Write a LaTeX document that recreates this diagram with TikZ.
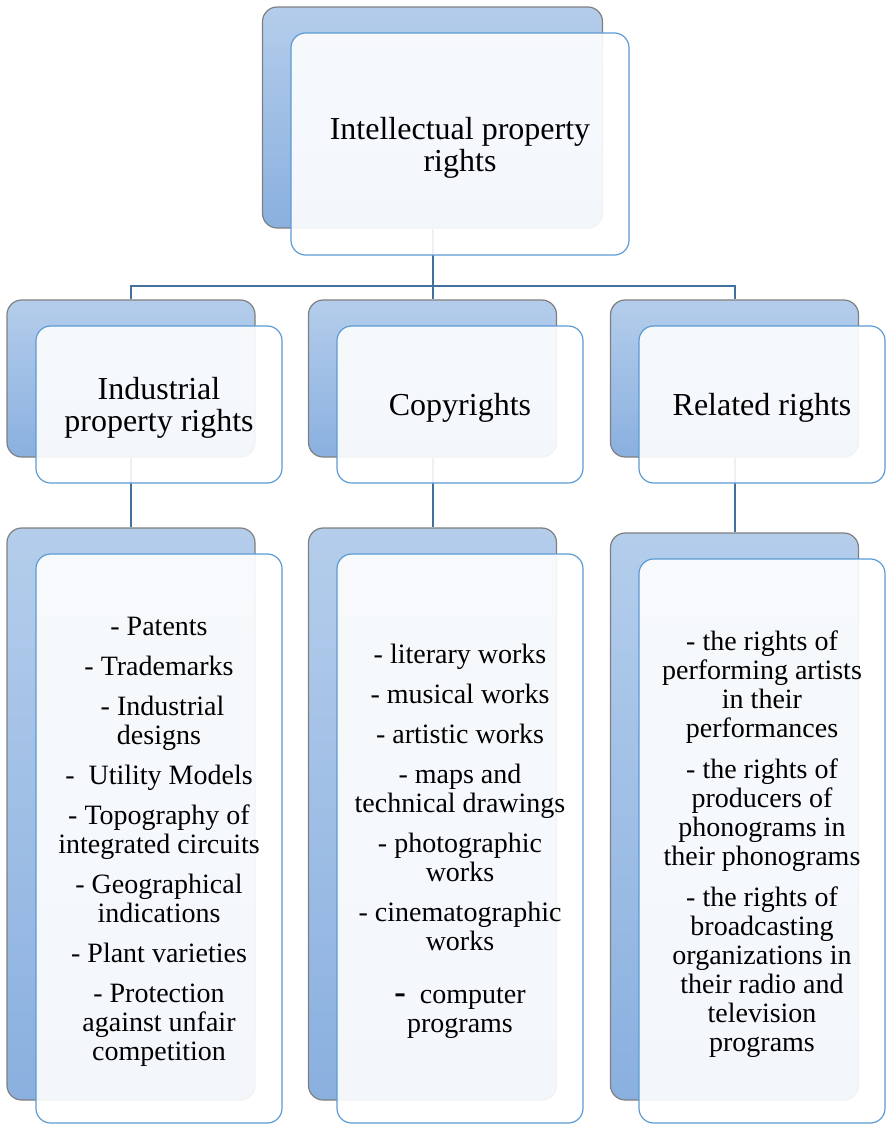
\documentclass[tikz,border=0pt]{standalone}
\usepackage{fontspec}
\setmainfont{Liberation Serif}
\definecolor{backtop}{HTML}{B4CDEB}
\definecolor{backbot}{HTML}{8AB0DF}
\definecolor{backline}{HTML}{7F7F7F}
\definecolor{frontline}{HTML}{5B9BD5}
\definecolor{linkblue}{HTML}{41719C}
\newcommand\listgap{8.25pt}

\begin{document}
\begin{tikzpicture}[x=0.75pt,y=-0.75pt,
		back/.style={draw=backline,line width=0.9pt,rounded corners=11pt,top color=backtop,bottom color=backbot,minimum width=186pt,inner sep=0pt},
		front/.style={draw=frontline,line width=0.9pt,rounded corners=11pt,fill=white,fill opacity=0.9,text opacity=1,minimum width=184.5pt,inner sep=0pt,align=center,text depth=0pt},
		link/.style={draw=linkblue,line width=1.5pt},
		big/.style={font=\fontsize{24}{24}\selectfont},
		small/.style={font=\fontsize{21}{21.75}\selectfont}]
		\useasboundingbox (0,0) rectangle (890,1125);
		
		\node[back,minimum width=255pt,minimum height=165.75pt] (iprb) at (432.5,117.5) {};
		\node[back,minimum height=117.75pt] (indb) at (131,378.5) {};
		\node[back,minimum height=117.75pt] (copb) at (432.5,378.5) {};
		\node[back,minimum height=117.75pt] (relb) at (734.5,378.5) {};
		\node[back,minimum height=429pt] (indlb) at (131,814) {};
		\node[back,minimum height=429pt] (coplb) at (432.5,814) {};
		\node[back,minimum height=425.25pt] (rellb) at (734.5,816.5) {};
		
		\coordinate (bus) at (432.5,286);
		\draw[link] (iprb.south) -- (copb.north);
		\draw[link] (indb.north) |- (bus) -| (relb.north);
		\draw[link] (indb.south) -- (indlb.north);
		\draw[link] (copb.south) -- (coplb.north);
		\draw[link] (relb.south) -- (rellb.north);
		
		\node[front,big,minimum width=253.5pt,minimum height=166.5pt] (ipr) at (460,144) {Intellectual property\\rights};
		\node[front,big,minimum height=117.75pt] (ind) at (159,404.5) {Industrial\\property rights};
		\node[front,big,minimum height=117.75pt] (cop) at (460,404.5) {Copyrights};
		\node[front,big,minimum height=117.75pt] (rel) at (762,404.5) {Related rights};
		
		\node[front,small,minimum height=426.75pt] (indl) at (159,838.5) {- Patents\\[\listgap]
			- Trademarks\\[\listgap]
			\ - Industrial\\designs\\[\listgap]
			-\ \ Utility Models\\[\listgap]
			- Topography of\\integrated circuits\\[\listgap]
			- Geographical\\indications\\[\listgap]
			- Plant varieties\\[\listgap]
			- Protection\\against unfair\\competition};
		\node[front,small,minimum height=426.75pt] (copl) at (460,838.5) {- literary works\\[\listgap]
			- musical works\\[\listgap]
			- artistic works\\[\listgap]
			- maps and\\technical drawings\\[\listgap]
			- photographic\\works\\[\listgap]
			- cinematographic\\works\\[18pt]
			{\fontsize{26}{26}\selectfont\bfseries -}\ \ computer\\programs};
		\node[front,small,minimum height=423pt] (rell) at (762,841) {- the rights of\\performing artists\\in their\\performances\\[9pt]
			- the rights of\\producers of\\phonograms in\\their phonograms\\[9pt]
			- the rights of\\broadcasting\\organizations in\\their radio and\\television\\programs};
\end{tikzpicture}
\end{document}
